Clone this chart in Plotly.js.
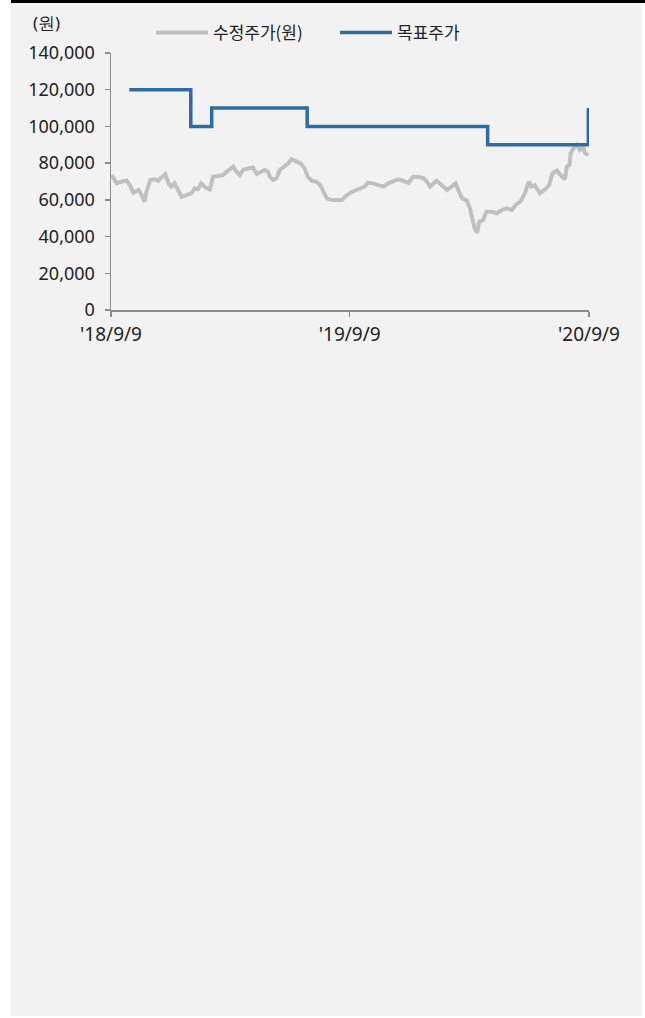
<!DOCTYPE html>
<html>
<head>
<meta charset="utf-8">
<script src="https://cdn.plot.ly/plotly-3.0.1.min.js"></script>
<style>html,body{margin:0;padding:0;background:#fff;}#chart{width:645px;height:1018px;}</style>
</head>
<body>
<div id="chart"></div>
<script>
// ---- data ----
const priceDates = ["2018-09-10","2018-09-18","2018-09-25","2018-10-03","2018-10-08","2018-10-13","2018-10-21","2018-10-26","2018-10-30","2018-11-03","2018-11-08","2018-11-15","2018-11-20","2018-11-26","2018-12-01","2018-12-06","2018-12-10","2018-12-15","2018-12-21","2018-12-26","2019-01-02","2019-01-10","2019-01-15","2019-01-20","2019-01-25","2019-01-31","2019-02-07","2019-02-12","2019-02-20","2019-02-27","2019-03-07","2019-03-15","2019-03-20","2019-03-25","2019-03-30","2019-04-07","2019-04-14","2019-04-20","2019-04-25","2019-05-02","2019-05-07","2019-05-10","2019-05-15","2019-05-20","2019-05-25","2019-06-02","2019-06-07","2019-06-12","2019-06-20","2019-06-26","2019-07-02","2019-07-07","2019-07-13","2019-07-20","2019-07-26","2019-07-31","2019-08-05","2019-08-13","2019-08-20","2019-08-28","2019-09-02","2019-09-10","2019-09-17","2019-09-25","2019-10-02","2019-10-07","2019-10-15","2019-10-23","2019-10-31","2019-11-07","2019-11-14","2019-11-22","2019-11-30","2019-12-08","2019-12-15","2019-12-23","2019-12-31","2020-01-05","2020-01-10","2020-01-20","2020-01-28","2020-02-05","2020-02-12","2020-02-18","2020-02-22","2020-02-28","2020-03-06","2020-03-11","2020-03-14","2020-03-18","2020-03-22","2020-03-25","2020-03-31","2020-04-05","2020-04-13","2020-04-21","2020-04-29","2020-05-06","2020-05-14","2020-05-20","2020-05-27","2020-06-03","2020-06-09","2020-06-13","2020-06-18","2020-06-26","2020-07-04","2020-07-10","2020-07-15","2020-07-22","2020-07-30","2020-08-03","2020-08-06","2020-08-10","2020-08-12","2020-08-16","2020-08-21","2020-08-26","2020-08-31","2020-09-03","2020-09-08"];
const priceValues = [73500,69000,69900,70400,68000,63900,65400,62600,59000,65400,70800,71200,70400,72600,74100,69000,67200,69000,64400,61700,62600,63500,66300,65700,69000,66800,65700,72600,73000,73500,75900,78100,75300,73500,76300,77200,77700,74100,74800,76300,75300,72600,70800,71700,76300,78400,79900,82100,80800,79900,77200,72600,70400,69900,68000,64400,60800,59900,59900,59900,61700,63900,65000,66300,67200,69300,69000,68000,67200,69000,69900,71200,70400,69300,72600,72600,71700,70000,67200,70400,68000,65400,67200,69000,65400,60800,59600,55400,50800,44500,42100,48100,49000,53500,53500,52700,54500,55400,54500,57200,59000,63500,69900,67200,68000,63500,65700,68000,74400,75900,72600,71200,78100,79000,85400,88000,89900,87200,88900,85400,84400];
const targetDates = ["2018-10-07","2019-01-09","2019-02-10","2019-07-06","2020-04-07","2020-09-08"];
const targetValues = [120000,100000,110000,100000,90000,110000];
const seriesNames = ["수정주가(원)","목표주가"];
const xTickVals = ["2018-09-09","2019-09-09","2020-09-09"];
const xTickText = ["'18/9/9","'19/9/9","'20/9/9"];
const yTickVals = [0,20000,40000,60000,80000,100000,120000,140000];
const yUnit = "(원)";

// ---- layout helpers (pixels -> paper) ----
const L = 111, R = 589, T = 53, B = 310;
const px = x => (x - L) / (R - L);
const py = y => (B - y) / (B - T);
const FONT = "'Noto Sans CJK KR', 'Noto Sans', sans-serif";
const NUMFONT = "'Noto Sans', 'Open Sans', sans-serif";

const traces = [
  {x: priceDates, y: priceValues, name: seriesNames[0], type: 'scatter', mode: 'lines',
   line: {color: '#c0c0c0', width: 4}},
  {x: targetDates, y: targetValues, name: seriesNames[1], type: 'scatter', mode: 'lines',
   line: {color: '#2e6ca4', width: 3.5, shape: 'hv'}}
];

const layout = {
  width: 645, height: 1018,
  margin: {l: L, r: 645 - R, t: T, b: 1018 - B, pad: 0},
  paper_bgcolor: '#ffffff',
  plot_bgcolor: 'rgba(0,0,0,0)',
  font: {family: FONT, size: 17, color: '#222'},
  showlegend: true,
  legend: {orientation: 'h', x: px(151), y: py(33), xanchor: 'left', yanchor: 'middle',
           bgcolor: 'rgba(0,0,0,0)', font: {family: FONT, size: 17, color: '#222'},
           itemwidth: 52, entrywidth: 117, tracegroupgap: 0},
  xaxis: {type: 'date', range: ['2018-09-09', '2020-09-09'],
          tickvals: xTickVals, ticktext: xTickText,
          showline: true, linecolor: '#8c8c8c', linewidth: 1.5,
          ticks: 'outside', ticklen: 5, tickcolor: '#8c8c8c', tickwidth: 1.5,
          ticklabelstandoff: 2,
          showgrid: false, zeroline: false, fixedrange: true,
          tickfont: {family: NUMFONT, size: 19, color: '#222'}},
  yaxis: {range: [0, 140000], tickvals: yTickVals, tickformat: ',d',
          showline: true, linecolor: '#8c8c8c', linewidth: 1.5,
          ticks: 'outside', ticklen: 5, tickcolor: '#8c8c8c', tickwidth: 1.5,
          ticklabelstandoff: 6,
          showgrid: false, zeroline: false, fixedrange: true,
          tickfont: {family: NUMFONT, size: 18, color: '#222'}},
  shapes: [
    {type: 'rect', xref: 'paper', yref: 'paper', x0: px(11), x1: px(642), y0: py(1016), y1: py(3),
     fillcolor: '#f2f2f2', line: {width: 0}, layer: 'below'},
    {type: 'rect', xref: 'paper', yref: 'paper', x0: px(11), x1: px(645), y0: py(3), y1: py(0),
     fillcolor: '#000000', line: {width: 0}, layer: 'below'}
  ],
  annotations: [
    {text: yUnit, xref: 'paper', yref: 'paper', x: px(31), y: py(23), xanchor: 'left', yanchor: 'middle',
     showarrow: false, font: {family: NUMFONT, size: 17, color: '#222'}}
  ]
};

Plotly.newPlot('chart', traces, layout, {displayModeBar: false, staticPlot: true});
</script>
</body>
</html>
